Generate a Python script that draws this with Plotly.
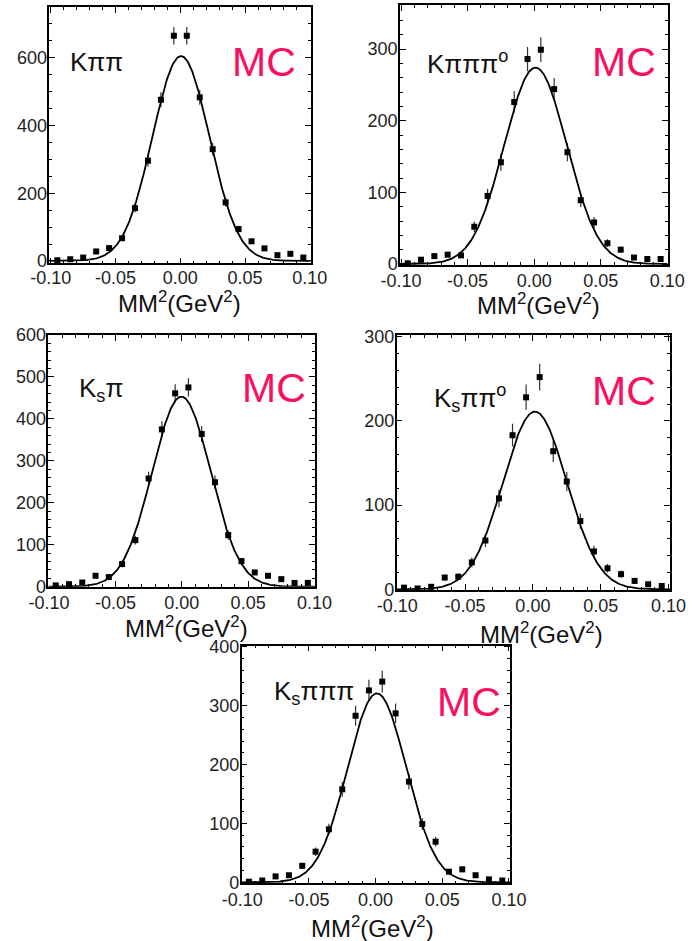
import numpy as np
import plotly.graph_objects as go

# Missing-mass-squared bin centres (GeV^2)
mm2_bins = [-0.095, -0.085, -0.075, -0.065, -0.055, -0.045, -0.035, -0.025, -0.015, -0.005,
            0.005, 0.015, 0.025, 0.035, 0.045, 0.055, 0.065, 0.075, 0.085, 0.095]

# Monte Carlo yields per bin for each decay channel
counts_kpipi = [2, 5, 10, 28, 38, 67, 156, 296, 476, 665, 665, 483, 330, 173, 94, 58, 37, 17, 21, 10]
counts_kpipipi0 = [1, 6, 11, 13, 12, 52, 95, 142, 226, 286, 299, 244, 156, 89, 58, 29, 20, 9, 7, 7]
counts_kspi = [3, 6, 10, 26, 23, 54, 111, 258, 375, 461, 475, 364, 249, 123, 61, 34, 26, 18, 9, 9]
counts_kspipi0 = [2, 1, 3, 14, 15, 32, 58, 108, 183, 228, 252, 164, 128, 81, 45, 25, 18, 10, 6, 4]
counts_kspipipi = [1, 3, 10, 12, 28, 52, 90, 158, 283, 326, 341, 287, 171, 99, 69, 18, 22, 12, 5, 3]

# Gaussian fit parameters (amplitude, mean, sigma)
fit_kpipi = (605, 0.0005, 0.022)
fit_kpipipi0 = (274, 0.001, 0.0235)
fit_kspi = (453, -0.0003, 0.022)
fit_kspipi0 = (211, 0.0015, 0.0235)
fit_kspipipi = (321, 0.001, 0.022)

channel_labels = ["Kππ", "Kπππ<sup>o</sup>", "K<sub>s</sub>π",
                  "K<sub>s</sub>ππ<sup>o</sup>", "K<sub>s</sub>πππ"]

x_tick_vals = [-0.10, -0.05, 0.00, 0.05, 0.10]
x_tick_text = ["-0.10", "-0.05", "0.00", "0.05", "0.10"]

W, H = 695, 941
FONT = "Liberation Sans, Arial, Helvetica, sans-serif"
MC_COLOR = "#f80f5f"


def px_x(v):
    return v / W


def px_y(v):
    return 1 - v / H


# Panel geometry: frame in pixels (left, right, top, bottom), axis ranges, tick steps
panels = [
    dict(counts=counts_kpipi, fit=fit_kpipi, frame=(49.3, 310.7, 7.3, 263.3),
         xr=[-0.1012, 0.1007], yr=[-7, 749], dy=200, dy_minor=50, xstand=-3,
         label_xy=(68, 62.5), mc_xy=(263.5, 62.5), title_xy=(179, 302)),
    dict(counts=counts_kpipipi0, fit=fit_kpipipi0, frame=(400.0, 667.7, 5.0, 265.0),
         xr=[-0.1008, 0.1003], yr=[-1.4, 361.4], dy=100, dy_minor=20, xstand=-1,
         label_xy=(425, 62.5), mc_xy=(623.5, 62.5), title_xy=(538, 304)),
    dict(counts=counts_kspi, fit=fit_kspi, frame=(48.3, 315.0, 335.0, 586.7),
         xr=[-0.1006, 0.1004], yr=[0, 600], dy=100, dy_minor=20, xstand=-1,
         label_xy=(77, 390), mc_xy=(273.5, 387.5), title_xy=(186.5, 627)),
    dict(counts=counts_kspipi0, fit=fit_kspipi0, frame=(396.7, 670.0, 335.0, 590.0),
         xr=[-0.1004, 0.1011], yr=[-0.8, 302], dy=100, dy_minor=20, xstand=-1,
         label_xy=(432, 398), mc_xy=(623.5, 391), title_xy=(541, 633)),
    dict(counts=counts_kspipipi, fit=fit_kspipipi, frame=(241.7, 510.0, 645.7, 883.3),
         xr=[-0.1004, 0.1008], yr=[-1.7, 402], dy=100, dy_minor=20, xstand=-1,
         label_xy=(272, 692), mc_xy=(468.5, 702), title_xy=(373, 927)),
]

fig = go.Figure()
annotations = []

for i, p in enumerate(panels):
    n = "" if i == 0 else str(i + 1)
    xa, ya = "x" + n, "y" + n
    left, right, top, bottom = p["frame"]

    axis_common = dict(
        showline=True, linecolor="black", linewidth=1.5, mirror="allticks",
        ticks="inside", ticklen=6, tickwidth=1, tickcolor="black",
        showgrid=False, zeroline=False, automargin=False,
        tickfont=dict(family=FONT, size=18, color="#222"),
    )
    fig.update_layout(**{
        "xaxis" + n: dict(
            axis_common, domain=[px_x(left), px_x(right)], range=p["xr"],
            anchor=ya, tickvals=x_tick_vals, ticktext=x_tick_text,
            ticklabelstandoff=p["xstand"],
            minor=dict(dtick=0.01, tick0=0, ticks="inside", ticklen=3,
                       tickcolor="black", showgrid=False),
        ),
        "yaxis" + n: dict(
            axis_common, domain=[px_y(bottom), px_y(top)], range=p["yr"],
            anchor=xa, dtick=p["dy"], tick0=0, ticklabelstandoff=-3,
            minor=dict(dtick=p["dy_minor"], tick0=0, ticks="inside", ticklen=3,
                       tickcolor="black", showgrid=False),
        ),
    })

    counts = np.array(p["counts"], dtype=float)
    fig.add_trace(go.Scatter(
        x=mm2_bins, y=counts, mode="markers", xaxis=xa, yaxis=ya,
        marker=dict(symbol="square", size=6, color="black"),
        error_y=dict(type="data", array=np.sqrt(counts), thickness=1.2,
                     width=0, color="#333"),
        showlegend=False, cliponaxis=False,
    ))

    amp, mu, sig = p["fit"]
    xs = np.linspace(p["xr"][0], p["xr"][1], 400)
    fig.add_trace(go.Scatter(
        x=xs, y=amp * np.exp(-0.5 * ((xs - mu) / sig) ** 2), mode="lines",
        xaxis=xa, yaxis=ya, line=dict(color="black", width=1.8),
        showlegend=False,
    ))

    lx, ly = p["label_xy"]
    annotations.append(dict(
        text=channel_labels[i], x=px_x(lx), y=px_y(ly), xref="paper", yref="paper",
        xanchor="left", yanchor="middle", showarrow=False,
        font=dict(family=FONT, size=26, color="#111"),
    ))
    mx, my = p["mc_xy"]
    annotations.append(dict(
        text="MC", x=px_x(mx), y=px_y(my), xref="paper", yref="paper",
        xanchor="center", yanchor="middle", showarrow=False,
        font=dict(family=FONT, size=41, color=MC_COLOR),
    ))
    tx, ty = p["title_xy"]
    annotations.append(dict(
        text="MM<sup>2</sup>(GeV<sup>2</sup>)", x=px_x(tx), y=px_y(ty),
        xref="paper", yref="paper", xanchor="center", yanchor="middle",
        showarrow=False, font=dict(family=FONT, size=24, color="#111"),
    ))

fig.update_layout(
    width=W, height=H, margin=dict(l=0, r=0, t=0, b=0, autoexpand=False),
    paper_bgcolor="white", plot_bgcolor="white",
    annotations=annotations, showlegend=False,
)

fig.write_html("out.html")
